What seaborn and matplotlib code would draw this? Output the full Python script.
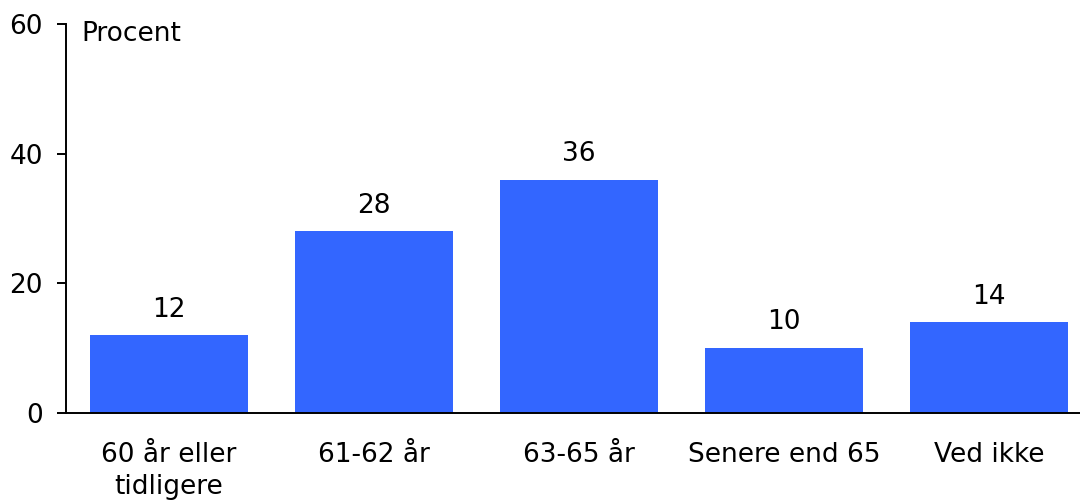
import matplotlib
matplotlib.use("Agg")
import matplotlib.pyplot as plt
import seaborn as sns
import pandas as pd

categories = ["60 år eller\ntidligere", "61-62 år", "63-65 år", "Senere end 65", "Ved ikke"]
values = [12, 28, 36, 10, 14]
yticks = [0, 20, 40, 60]

sns.set_theme(style="white")
plt.rcParams["font.family"] = ["DejaVu Sans"]

df = pd.DataFrame({"kategori": categories, "procent": values})

fig = plt.figure(figsize=(10.8, 5.01), dpi=100)
ax = fig.add_axes([66 / 1080, 88 / 501, 1014 / 1080, 389 / 501])

sns.barplot(data=df, x="kategori", y="procent", color="#3366FF",
            saturation=1, width=0.77, linewidth=0, ax=ax)

ax.set_ylim(0, 60)
ax.set_xlim(-0.5, 4.444)
ax.set_yticks(yticks)
ax.set_xlabel("")
ax.set_ylabel("")

fs = 19
ax.tick_params(axis="y", left=True, length=6.5, width=1.4, pad=10,
               labelsize=fs, colors="black", direction="out")
ax.tick_params(axis="x", bottom=False, labelsize=fs, pad=15, colors="black")
for lab in ax.get_xticklabels():
    lab.set_linespacing(1.3)

for side in ["top", "right"]:
    ax.spines[side].set_visible(False)
for side in ["left", "bottom"]:
    ax.spines[side].set_color("black")
    ax.spines[side].set_linewidth(1.4)

for i, v in enumerate(values):
    ax.annotate(str(v), xy=(i, v), xytext=(0, 18.5), textcoords="offset points",
                ha="center", va="center", fontsize=fs, color="black")

ax.text(15 / 1014, 1 - 10 / 389, "Procent", transform=ax.transAxes,
        ha="left", va="center", fontsize=fs, color="black")

fig.savefig("out.png", dpi=100)
